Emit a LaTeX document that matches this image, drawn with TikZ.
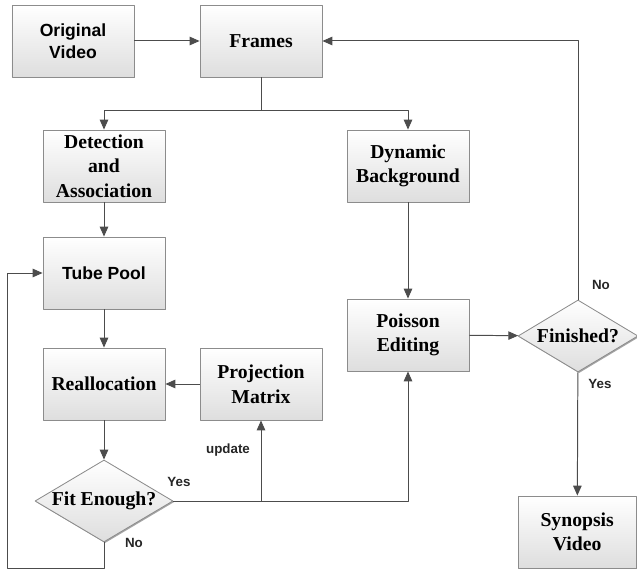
\documentclass[tikz,border=0pt]{standalone}
\usepackage{fontspec}
\setmainfont{Liberation Serif}
\newfontfamily\boxserif{Liberation Serif}
\newfontfamily\labelsans{Liberation Sans}
\usetikzlibrary{arrows.meta,shapes.geometric,shadows}
\begin{document}
\begin{tikzpicture}[>={Triangle[width=6pt,length=7pt]}, line join=round,
  line/.style={draw=black!70, line width=0.7pt},
  box/.style={draw=black!45, line width=0.6pt, top color=white, bottom color=black!13,
    minimum width=3.05cm, minimum height=1.8cm, inner sep=1pt, align=center,
    font=\boxserif\fontsize{14}{17.5}\selectfont\bfseries,
    drop shadow={shadow xshift=0.8pt, shadow yshift=-0.8pt, opacity=0.35, fill=black}},
  sbox/.style={box, font=\labelsans\fontsize{12.5}{16}\selectfont\bfseries},
  decision/.style={box, diamond, aspect=1.7, inner sep=0pt, minimum width=3.45cm, minimum height=2.05cm},
  tag/.style={font=\labelsans\fontsize{9.5}{11}\selectfont\bfseries, text=black!85}]
\useasboundingbox (0,0) rectangle (15.925,14.35);
% Bloques
\node[sbox] (orig) at (1.825,13.325) {Original\\Video};
\node[box] (frames) at (6.525,13.325) {Frames};
\node[box] (det) at (2.6,10.2) {Detection\\and\\Association};
\node[box] (dyn) at (10.2,10.2) {Dynamic\\Background};
\node[sbox] (tube) at (2.6,7.525) {Tube Pool};
\node[box] (realloc) at (2.6,4.75) {Reallocation};
\node[box] (proj) at (6.525,4.75) {Projection\\Matrix};
\node[decision] (fit) at (2.6,1.825) {Fit Enough?};
\node[box] (poisson) at (10.2,5.975) {Poisson\\Editing};
\node[decision, minimum width=3cm, minimum height=1.8cm] (fin) at (14.45,5.95) {Finished?};
\node[box, minimum width=2.95cm] (syn) at (14.43,1.05) {Synopsis\\Video};
\coordinate (loop) at (0.175,0.15);
% Conexiones
\draw[line,->] (orig) -- (frames);
\draw[line] (frames.south) -- ++(0,-0.825) coordinate (split);
\draw[line,->] (split) -| (det.north);
\draw[line,->] (split) -| (dyn.north);
\draw[line,->] (det) -- (tube);
\draw[line,->] (tube) -- (realloc);
\draw[line,->] (proj) -- (realloc);
\draw[line,->] (realloc) -- (fit);
\draw[line,->] (fit.south) |- (loop) |- (tube.west);
\draw[line,->] (fit.east) -| (poisson.south);
\draw[line,->] (fit.east -| proj.south) -- (proj.south);
\draw[line,->] (dyn) -- (poisson);
\draw[line,->] (poisson) -- (fin);
\draw[line,->] (fin.north) |- (frames.east);
\draw[line,->] (fin) -- (syn);
% Etiquetas
\node[tag] at (4.475,2.3) {Yes};
\node[tag] at (3.35,0.775) {No};
\node[tag] at (5.7,3.1) {update};
\node[tag] at (15.025,7.225) {No};
\node[tag] at (15.0,4.75) {Yes};
\end{tikzpicture}
\end{document}
